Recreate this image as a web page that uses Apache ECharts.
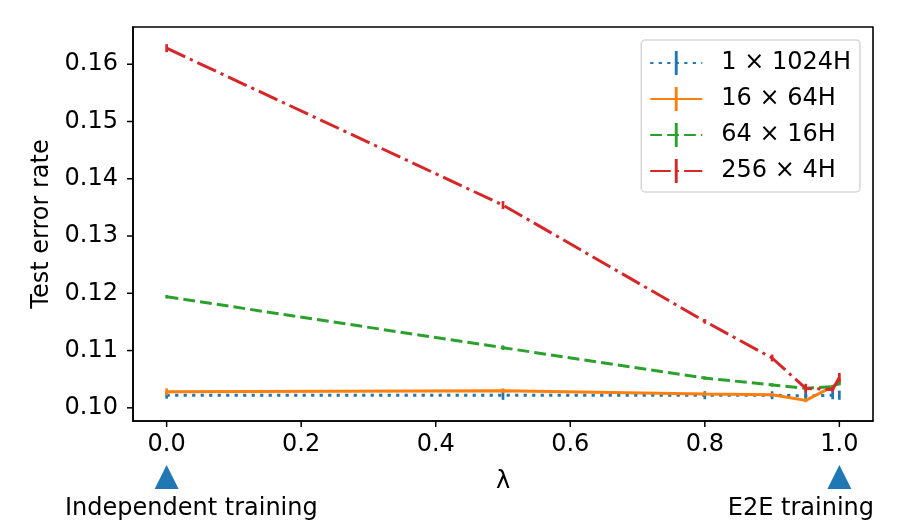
<!DOCTYPE html>
<html>
<head>
<meta charset="utf-8">
<script src="https://cdn.jsdelivr.net/npm/echarts@6/dist/echarts.min.js"></script>
<style>
  html, body { margin: 0; padding: 0; background: #fff; }
  #chart { width: 900px; height: 532px; }
</style>
</head>
<body>
<div id="chart"></div>
<script>
  // lambda values where each model was evaluated
  const lambdas = [0, 0.5, 0.8, 0.9, 0.95, 0.99, 1.0]
  const seriesNames = ['1 × 1024H', '16 × 64H', '64 × 16H', '256 × 4H']
  // test error rate (mean) per series
  const err1x1024 = [0.1022, 0.1022, 0.1022, 0.1022, 0.1021, 0.1022, 0.1022]
  const err16x64 = [0.1028, 0.1030, 0.1024, 0.1023, 0.1013, 0.1037, 0.1046]
  const err64x16 = [0.1194, 0.1105, 0.1052, 0.1040, 0.1034, 0.1037, 0.1043]
  const err256x4 = [0.1628, 0.1354, 0.1151, 0.1087, 0.1034, 0.1032, 0.1053]
  // half width of the error bars
  const sd1x1024 = [0.0006, 0.0008, 0.0007, 0.0007, 0.0011, 0.0007, 0.0008]
  const sd16x64 = [0.0006, 0.0004, 0.0003, 0.0003, 0.0003, 0.0003, 0.0005]
  const sd64x16 = [0.0003, 0.0004, 0.0003, 0.0003, 0.0003, 0.0003, 0.0004]
  const sd256x4 = [0.0007, 0.0007, 0.0004, 0.0006, 0.0008, 0.0004, 0.0008]
  // axis ticks
  const xTicks = [0, 0.2, 0.4, 0.6, 0.8, 1.0]
  const yTicks = [0.10, 0.11, 0.12, 0.13, 0.14, 0.15, 0.16]
  // annotation markers under the x axis
  const anchorX = [0, 1]
  const anchorText = ['Independent training', 'E2E training']

  const colors = ['#1f77b4', '#ff7f0e', '#2ca02c', '#d62728']
  const dashes = [[3.2, 5.3], 'solid', [11.8, 5.1], [20.5, 5.1, 3.2, 5.1]]
  const means = [err1x1024, err16x64, err64x16, err256x4]
  const sds = [sd1x1024, sd16x64, sd64x16, sd256x4]
  const font = 'DejaVu Sans'
  const fs = 24
  const barIcon = 'path://M0 0h0.01v0.01h-0.01z M4.4 0h1.2v10h-1.2z M9.99 9.99h0.01v0.01h-0.01z'

  let series = []
  means.forEach((vals, i) => {
    series.push({
      name: seriesNames[i],
      type: 'line',
      data: lambdas.map((x, j) => [x, vals[j]]),
      symbol: barIcon,
      showSymbol: false,
      lineStyle: { color: colors[i], width: 3, type: dashes[i], cap: 'butt' },
      itemStyle: { color: colors[i] },
      z: 2 + i * 2,
      silent: true
    })
    series.push({
      name: 'err-' + i,
      type: 'custom',
      data: lambdas.map((x, j) => [x, vals[j] - sds[i][j], vals[j] + sds[i][j]]),
      renderItem: (params, api) => {
        let p1 = api.coord([api.value(0), api.value(1)])
        let p2 = api.coord([api.value(0), api.value(2)])
        return {
          type: 'line',
          shape: { x1: p1[0], y1: p1[1], x2: p2[0], y2: p2[1] },
          style: { stroke: colors[i], lineWidth: 2.7 }
        }
      },
      z: 3 + i * 2,
      silent: true
    })
  })

  // tick marks: short outward strokes placed through the axis scales
  series.push({
    name: 'ticks-x',
    type: 'custom',
    data: xTicks.map(v => [v, yTicks[0]]),
    clip: false,
    silent: true,
    z: 20,
    renderItem: (params, api) => {
      let r = params.coordSys
      let px = api.coord([api.value(0), api.value(1)])[0]
      let y0 = r.y + r.height
      return { type: 'line', shape: { x1: px, y1: y0, x2: px, y2: y0 + 6 }, style: { stroke: '#000', lineWidth: 1.5 } }
    }
  })
  series.push({
    name: 'ticks-y',
    type: 'custom',
    data: yTicks.map(v => [xTicks[0], v]),
    clip: false,
    silent: true,
    z: 20,
    renderItem: (params, api) => {
      let r = params.coordSys
      let py = api.coord([api.value(0), api.value(1)])[1]
      return { type: 'line', shape: { x1: r.x, y1: py, x2: r.x - 6, y2: py }, style: { stroke: '#000', lineWidth: 1.5 } }
    }
  })

  let axisLine = { show: true, onZero: false, lineStyle: { color: '#000', width: 1.6 } }

  let myChart = echarts.init(document.getElementById('chart'))
  let option = {
    animation: false,
    backgroundColor: '#fff',
    grid: {
      left: 133,
      right: 27,
      top: 27,
      bottom: 111,
      show: true,
      borderColor: '#000',
      borderWidth: 1.6,
      backgroundColor: 'transparent'
    },
    legend: {
      data: seriesNames,
      orient: 'vertical',
      right: 40,
      top: 40,
      padding: [11, 9, 9, 8],
      itemWidth: 52,
      itemHeight: 30,
      itemGap: 12,
      backgroundColor: 'rgba(255,255,255,0.8)',
      borderColor: '#d6d6d6',
      borderWidth: 1.5,
      borderRadius: 4,
      textStyle: { fontFamily: font, fontSize: fs, color: '#000', padding: [0, 0, 0, 14] }
    },
    xAxis: {
      type: 'value',
      min: -0.05,
      max: 1.05,
      name: 'λ',
      nameLocation: 'middle',
      nameGap: 49,
      nameTextStyle: { fontFamily: font, fontSize: fs, color: '#000' },
      axisLine: axisLine,
      splitLine: { show: false },
      axisTick: { show: false },
      axisLabel: {
        customValues: xTicks,
        margin: 12,
        fontFamily: font,
        fontSize: fs,
        color: '#000',
        formatter: v => v.toFixed(1)
      }
    },
    yAxis: {
      type: 'value',
      min: 0.0977,
      max: 0.1665,
      name: 'Test error rate',
      nameLocation: 'middle',
      nameGap: 78,
      nameTextStyle: { fontFamily: font, fontSize: fs, color: '#000' },
      axisLine: axisLine,
      splitLine: { show: false },
      axisTick: { show: false },
      axisLabel: {
        customValues: yTicks,
        margin: 15,
        fontFamily: font,
        fontSize: fs,
        color: '#000',
        formatter: v => v.toFixed(2)
      }
    },
    series: series
  }
  myChart.setOption(option)

  // triangles and captions below the axis, placed from the x scale
  let graphic = []
  anchorX.forEach((v, i) => {
    let px = myChart.convertToPixel({ xAxisIndex: 0 }, v)
    graphic.push({
      type: 'polygon',
      shape: { points: [[px, 465], [px - 12, 489], [px + 12, 489]] },
      style: { fill: colors[0] },
      silent: true
    })
  })
  graphic.push({
    type: 'text',
    x: 65,
    y: 509,
    style: { text: anchorText[0], fontFamily: font, fontSize: fs, fill: '#000', align: 'left', verticalAlign: 'middle' }
  })
  graphic.push({
    type: 'text',
    x: 874,
    y: 509,
    style: { text: anchorText[1], fontFamily: font, fontSize: fs, fill: '#000', align: 'right', verticalAlign: 'middle' }
  })
  myChart.setOption({ graphic: graphic })
</script>
</body>
</html>
